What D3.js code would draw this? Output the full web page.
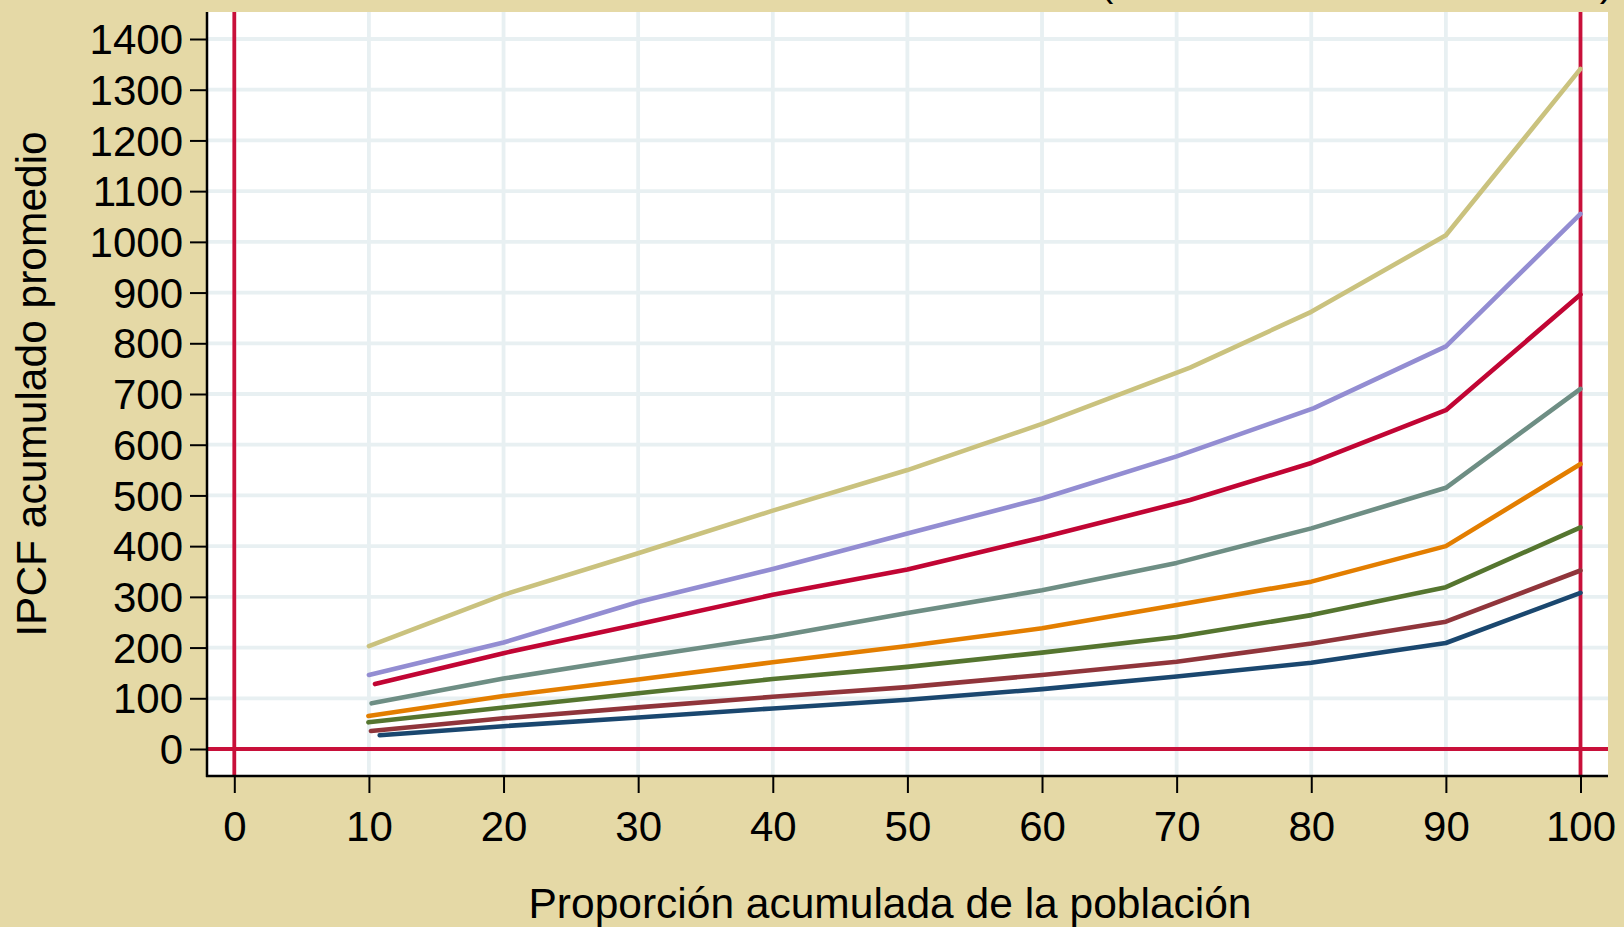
<!DOCTYPE html>
<html>
<head>
<meta charset="utf-8">
<script src="https://cdn.jsdelivr.net/npm/d3@7"></script>
<style>
html,body{margin:0;padding:0;background:#e5d9a6;}
svg{display:block;}
text{font-family:"Liberation Sans",Arial,sans-serif;fill:#000;}
</style>
</head>
<body>
<svg id="chart" width="1624" height="927"></svg>
<script>
// ---- data ----
const xTicks = [0,10,20,30,40,50,60,70,80,90,100];
const yTicks = [0,100,200,300,400,500,600,700,800,900,1000,1100,1200,1300,1400];
const xTitle = "Proporción acumulada de la población";
const yTitle = "IPCF acumulado promedio";

const navyX      = [10.8,20,30,40,50,60,70,80,90,100];
const navyY      = [27,45,62,80,97,118,143,170,209,308];
const maroonX    = [10.15,20,30,40,50,60,70,80,90,100];
const maroonY    = [35.5,60.5,82,103,122,146,172,208,251,352];
const greenX     = [9.96,20,30,40,50,60,70,80,90,100];
const greenY     = [52.6,82,110,138,162,190,221,264,319,437];
const orangeX    = [9.96,20,30,40,50,60,70,80,90,100];
const orangeY    = [65,104.5,137,171,203,238,284,330,400,562];
const tealX      = [10.2,20,30,40,50,60,70,80,90,100];
const tealY      = [90,139,181,221,268,313,367,435,515,710];
const cranberryX = [10.45,20,30,40,50,60,71,80,90,100];
const cranberryY = [128,189,246,304,354,417,491,564,668,896];
const lavenderX  = [10,20,30,40,50,60,70,80.2,90,100];
const lavenderY  = [146,210,290,355,425,494,577,672,794,1055];
const khakiX     = [10,20,30,40,50,60,71,80,90,100];
const khakiY     = [203,304,386,470,550,641,752,862,1013,1341];

const seriesX = [navyX, maroonX, greenX, orangeX, tealX, cranberryX, lavenderX, khakiX];
const seriesY = [navyY, maroonY, greenY, orangeY, tealY, cranberryY, lavenderY, khakiY];
const seriesColors = ["#1a476f","#90353b","#55752f","#e37e00","#6e8e84","#c10534","#938dd2","#cac27e"];

// ---- layout ----
const plotL = 207, plotR = 1608, plotT = 12, plotB = 776;
const svg = d3.select("#chart");
const x = d3.scaleLinear().domain([0,100]).range([234.3,1580.5]);
const y = d3.scaleLinear().domain([0,1400]).range([749,39]);

svg.append("rect").attr("width",1624).attr("height",927).attr("fill","#e5d9a6");
svg.append("rect").attr("x",plotL).attr("y",plotT).attr("width",plotR-plotL).attr("height",plotB-plotT).attr("fill","#ffffff");

// grid
const grid = svg.append("g");
grid.selectAll("line.gx").data(xTicks.filter(d=>d>0 && d<100)).enter().append("line")
  .attr("x1",d=>x(d)).attr("x2",d=>x(d)).attr("y1",plotT).attr("y2",plotB)
  .attr("stroke","#e8f0f2").attr("stroke-width",3.8);
grid.selectAll("line.gy").data(yTicks.filter(d=>d>0)).enter().append("line")
  .attr("x1",plotL).attr("x2",plotR).attr("y1",d=>y(d)).attr("y2",d=>y(d))
  .attr("stroke","#e8f0f2").attr("stroke-width",3.8);

// reference lines
const refColor = "#c8103a";
svg.append("line").attr("x1",plotL).attr("x2",plotR).attr("y1",y(0)).attr("y2",y(0)).attr("stroke",refColor).attr("stroke-width",3.8);
[0,100].forEach(v=>{
  svg.append("line").attr("x1",x(v)).attr("x2",x(v)).attr("y1",plotT).attr("y2",plotB).attr("stroke",refColor).attr("stroke-width",3.8);
});

// series
const line = d3.line().x(d=>x(d[0])).y(d=>y(d[1]));
seriesX.forEach((xs,i)=>{
  const pts = xs.map((v,j)=>[v, seriesY[i][j]]);
  svg.append("path").attr("d",line(pts)).attr("fill","none")
    .attr("stroke",seriesColors[i]).attr("stroke-width",4.6)
    .attr("stroke-linecap","round").attr("stroke-linejoin","round");
});

// axes
const yAxis = svg.append("g").attr("transform",`translate(${plotL},0)`)
  .call(d3.axisLeft(y).tickValues(yTicks).tickSize(17).tickPadding(7).tickFormat(d3.format("d")));
const xAxis = svg.append("g").attr("transform",`translate(0,${plotB})`)
  .call(d3.axisBottom(x).tickValues(xTicks).tickSize(17).tickPadding(8).tickFormat(d3.format("d")));
[yAxis,xAxis].forEach(g=>{
  g.select(".domain").remove();
  g.selectAll(".tick line").attr("stroke","#000").attr("stroke-width",2);
  g.selectAll(".tick text").attr("font-size",42).attr("font-family","Liberation Sans, Arial, sans-serif").attr("fill","#000");
});
yAxis.selectAll(".tick text").attr("dy","0.35em");
xAxis.selectAll(".tick text").attr("dy",0).attr("y",65);

// axis lines
svg.append("line").attr("x1",plotL).attr("x2",plotL).attr("y1",plotT).attr("y2",plotB+1).attr("stroke","#000").attr("stroke-width",2.5);
svg.append("line").attr("x1",plotL-1).attr("x2",plotR).attr("y1",plotB).attr("y2",plotB).attr("stroke","#000").attr("stroke-width",2.5);

// titles
svg.append("text").attr("x",890).attr("y",918).attr("text-anchor","middle").attr("font-size",42.5)
  .text(xTitle);
svg.append("text").attr("transform","translate(46,384) rotate(-90)").attr("text-anchor","middle").attr("font-size",42.5)
  .text(yTitle);

// clipped chart title (only bottoms of parentheses visible, as in the reference)
svg.append("text").attr("x",1100).attr("y",-4).attr("font-size",40).text("(");
svg.append("text").attr("x",1613).attr("y",-4).attr("text-anchor","end").attr("font-size",40).text(")");
</script>
</body>
</html>
